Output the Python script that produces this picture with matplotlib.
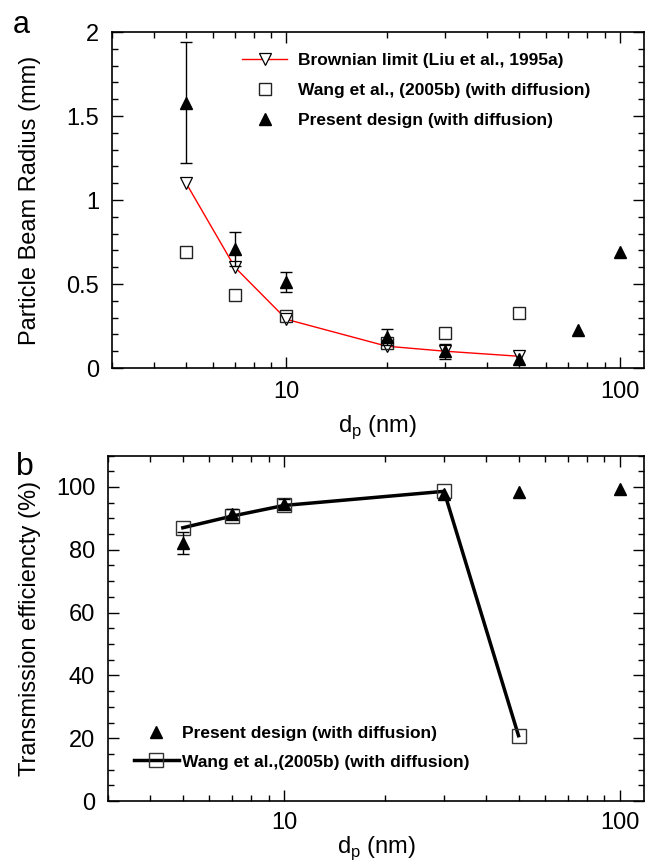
import matplotlib.pyplot as plt
from matplotlib.lines import Line2D
from matplotlib.ticker import FixedLocator, NullFormatter

plt.rcParams['font.family'] = ['Liberation Sans', 'DejaVu Sans']

# panel a data: particle beam radius (mm)
dp_brown = [5, 7, 10, 20, 30, 50]
r_brown = [1.10, 0.60, 0.29, 0.13, 0.10, 0.07]

dp_wang_a = [5, 7, 10, 20, 30, 50]
r_wang = [0.69, 0.435, 0.31, 0.15, 0.21, 0.33]

dp_present_a = [5, 7, 10, 20, 30, 50, 75, 100]
r_present = [1.58, 0.71, 0.51, 0.185, 0.10, 0.055, 0.225, 0.69]
r_present_err = [0.36, 0.10, 0.06, 0.045, 0.045, 0.0, 0.0, 0.0]

# panel b data: transmission efficiency (%)
dp_present_b = [5, 7, 10, 30, 50, 100]
te_present = [82.2, 91.5, 94.7, 97.9, 98.4, 99.4]
te_present_err = [3.5, 1.5, 1.5, 0.0, 0.0, 0.0]

dp_wang_b = [5, 7, 10, 30, 50]
te_wang = [87.0, 90.7, 94.1, 98.6, 20.8]

fig = plt.figure(figsize=(6.45, 8.66), dpi=100)
ax1 = fig.add_axes([0.174, 0.575, 0.824, 0.388])
ax2 = fig.add_axes([0.168, 0.075, 0.830, 0.399])

tick_fs = 17
lab_fs = 17
leg_font = {'weight': 'bold', 'size': 12.5}

# ---- panel a
ax1.plot(dp_brown, r_brown, color='red', lw=1, marker='v', ms=8,
         mfc='white', mec='black', mew=0.9, zorder=3)
ax1.plot(dp_wang_a, r_wang, ls='none', marker='s', ms=9, mfc='none', mec='#222222',
         mew=1.0, zorder=4)
ax1.plot(dp_present_a, r_present, ls='none', marker='^', ms=8.5, color='black', zorder=5)
ax1.errorbar(dp_present_a, r_present, yerr=r_present_err, fmt='none',
             errorevery=[e > 0 for e in r_present_err],
             ecolor='black', elinewidth=1, capsize=4, capthick=1, zorder=5)

ax1.set_xscale('log')
ax1.set_xlim(3, 118)
ax1.set_ylim(0, 2)
ax1.set_yticks([0, 0.5, 1, 1.5, 2])
ax1.set_yticklabels(['0', '0.5', '1', '1.5', '2'])
ax1.yaxis.set_minor_locator(FixedLocator([i * 0.1 for i in range(21)]))
ax1.set_ylabel('Particle Beam Radius (mm)', fontsize=lab_fs, labelpad=18)
ax1.set_xlabel('d$_\\mathregular{p}$ (nm)', fontsize=lab_fs, labelpad=7)
ax1.text(-0.188, 1.022, 'a', transform=ax1.transAxes, fontsize=22, va='center', ha='left')

h_a = [
    Line2D([], [], color='red', lw=1, marker='v', ms=8, mfc='white', mec='black', mew=0.9),
    Line2D([], [], ls='none', marker='s', ms=9, mfc='none', mec='#222222', mew=1.0),
    Line2D([], [], ls='none', marker='^', ms=8.5, color='black'),
]
l_a = ['Brownian limit (Liu et al., 1995a)', 'Wang et al., (2005b) (with diffusion)',
       'Present design (with diffusion)']
ax1.legend(h_a, l_a, loc='upper left', bbox_to_anchor=(0.215, 0.984), frameon=False,
           prop=leg_font, handlelength=2.6, handletextpad=0.6, labelspacing=0.85,
           numpoints=1)

# ---- panel b
ax2.plot(dp_present_b, te_present, ls='none', marker='^', ms=8.5, color='black', zorder=5)
ax2.errorbar(dp_present_b, te_present, yerr=te_present_err, fmt='none',
             errorevery=[e > 0 for e in te_present_err],
             ecolor='black', elinewidth=1, capsize=4, capthick=1, zorder=5)
ax2.plot(dp_wang_b, te_wang, color='black', lw=2.5, marker='s', ms=10, mfc='none',
         mec='#333333', mew=1.0, zorder=4)

ax2.set_xscale('log')
ax2.set_xlim(3, 118)
ax2.set_ylim(0, 110)
ax2.set_yticks([0, 20, 40, 60, 80, 100])
ax2.yaxis.set_minor_locator(FixedLocator(list(range(0, 111, 5))))
ax2.set_ylabel('Transmission efficiencty (%)', fontsize=lab_fs, labelpad=11)
ax2.set_xlabel('d$_\\mathregular{p}$ (nm)', fontsize=lab_fs, labelpad=0)
ax2.text(-0.172, 0.968, 'b', transform=ax2.transAxes, fontsize=23, va='center', ha='left')

h_b = [
    Line2D([], [], ls='none', marker='^', ms=8.5, color='black'),
    Line2D([], [], color='black', lw=2.5, marker='s', ms=10, mfc='none', mec='#333333', mew=1.0),
]
l_b = ['Present design (with diffusion)', 'Wang et al.,(2005b) (with diffusion)']
ax2.legend(h_b, l_b, loc='lower left', bbox_to_anchor=(0.018, 0.046), frameon=False,
           prop=leg_font, handlelength=2.6, handletextpad=0.2, labelspacing=0.75,
           numpoints=1)

for ax in (ax1, ax2):
    ax.set_xticks([10, 100])
    ax.set_xticklabels(['10', '100'])
    ax.xaxis.set_minor_locator(FixedLocator([3, 4, 5, 6, 7, 8, 9, 20, 30, 40, 50, 60, 70, 80, 90]))
    ax.xaxis.set_minor_formatter(NullFormatter())
    ax.tick_params(which='both', direction='in', top=True, right=True, labelsize=tick_fs,
                   width=1, pad=9.5)
    ax.tick_params(which='major', length=8)
    ax.tick_params(which='minor', length=4.5)
    for s in ax.spines.values():
        s.set_linewidth(1.2)
ax2.tick_params(axis='x', which='both', pad=8)

fig.savefig('out.png', dpi=100)
